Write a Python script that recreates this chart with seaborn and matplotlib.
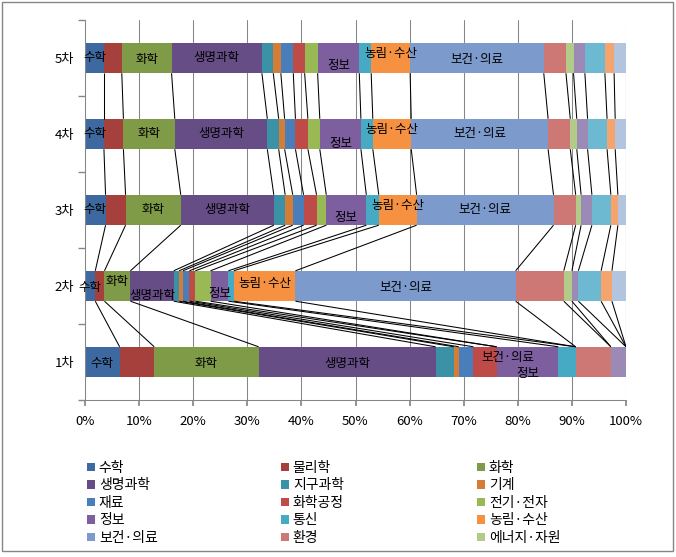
import numpy as np
import pandas as pd
import matplotlib
matplotlib.use("Agg")
import matplotlib.pyplot as plt
import seaborn as sns
from matplotlib.patches import Patch, Rectangle
from matplotlib.transforms import offset_copy

# ---------------- data ----------------
rows = ["5차", "4차", "3차", "2차", "1차"]
fields = ["수학", "물리학", "화학", "생명과학", "지구과학", "기계", "재료", "화학공정",
          "전기·전자", "정보", "통신", "농림·수산", "보건·의료", "환경", "에너지·자원",
          "원자력", "건설·교통", "융합", "기타"]

share_5 = [3.5, 3.3, 9.2, 16.7, 2.1, 1.4, 2.3, 2.1, 2.4, 7.7, 2.2, 7.2, 24.7, 4.1, 1.4, 2.1, 3.7, 1.7, 2.2]
share_4 = [3.5, 3.6, 9.5, 17.1, 2.1, 1.1, 2.0, 2.3, 2.2, 7.6, 2.2, 7.1, 25.3, 4.1, 1.2, 2.0, 3.6, 1.5, 2.0]
share_3 = [3.8, 3.7, 10.2, 17.2, 2.1, 1.4, 2.0, 2.4, 1.8, 7.4, 2.3, 7.0, 25.3, 4.1, 1.0, 2.0, 3.5, 1.3, 1.5]
share_2 = [1.9, 1.7, 4.8, 8.0, 1.0, 0.7, 1.2, 1.1, 2.8, 3.3, 1.0, 11.4, 40.7, 8.9, 1.5, 1.2, 4.2, 2.0, 2.6]
share_1 = [6.4, 6.4, 19.3, 32.7, 3.4, 0.9, 2.7, 4.3, 0.0, 11.4, 3.2, 0.0, 0.0, 6.5, 0.0, 2.8, 0.0, 0.0, 0.0]

xtick_values = list(range(0, 101, 10))
xtick_labels = [f"{v}%" for v in xtick_values]

colors = ["#3E69A0", "#A5403D", "#809B48", "#664D86", "#3B92A7", "#D37D36",
          "#4A7EBB", "#BE4B48", "#98B954", "#7D5FA0", "#46AAC5", "#F59141",
          "#7C9ACB", "#CE7876", "#B2CB88", "#9B8AB5", "#6DB9D1", "#F6A46D", "#B3C5DE"]

# labels shown on bars: field -> (dx px, dy px downward)
bar_labels = {
    "5차": {"수학": (0, 0), "화학": (0, 1), "생명과학": (0, 0), "정보": (0, 7), "농림·수산": (0, -5), "보건·의료": (0, 1)},
    "4차": {"수학": (0, 0), "화학": (0, 0), "생명과학": (0, 0), "정보": (0, 9), "농림·수산": (0, -5), "보건·의료": (0, 0)},
    "3차": {"수학": (0, 0), "화학": (0, 0), "생명과학": (0, 0), "정보": (0, 8), "농림·수산": (0, -5), "보건·의료": (0, 0)},
    "2차": {"수학": (0, 2), "화학": (0, -4), "생명과학": (0, 9), "정보": (0, 8), "농림·수산": (0, -2), "보건·의료": (0, 1)},
    "1차": {"수학": (0, 2), "화학": (0, 2), "생명과학": (0, 2), "보건·의료": (-68, -5), "정보": (0, 12)},
}

# ---------------- plot ----------------
sns.set_theme(style="white")
plt.rcParams["font.family"] = ["Noto Sans CJK KR", "DejaVu Sans"]
plt.rcParams["text.color"] = "black"

W, H = 676, 557
fig = plt.figure(figsize=(W / 100, H / 100), dpi=100)
fig.patch.set_facecolor("white")
ax = fig.add_axes([85 / W, 1 - 400 / H, 541 / W, 380 / H])

shares = np.array([share_5, share_4, share_3, share_2, share_1])
cum = shares.cumsum(axis=1)
df = pd.DataFrame(cum, index=rows, columns=fields)

bar_h = 0.4
for j in reversed(range(len(fields))):
    sns.barplot(x=df[fields[j]].values, y=rows, order=rows, color=colors[j],
                saturation=1, width=bar_h, linewidth=0, errorbar=None,
                orient="h", ax=ax)

ax.set_xlim(0, 100)
ax.set_ylim(4.5, -0.5)

# series lines
for i in range(len(rows) - 1):
    for j in range(len(fields)):
        ax.plot([cum[i + 1, j], cum[i, j]], [i + 1 - bar_h / 2, i + bar_h / 2],
                color="black", lw=0.75, zorder=2, solid_capstyle="butt")

# bar labels
for i, r in enumerate(rows):
    for f, (dx, dy) in bar_labels[r].items():
        j = fields.index(f)
        center = cum[i, j] - shares[i, j] / 2
        tr = offset_copy(ax.transData, fig=fig, x=dx, y=-dy, units="dots")
        ax.text(center, i, f, transform=tr, ha="center", va="center",
                fontsize=9, color="black", zorder=3)

# axes styling
ax.set_axisbelow(True)
ax.xaxis.grid(True, color="#868686", lw=0.75)
ax.yaxis.grid(False)
for s in ["top", "right"]:
    ax.spines[s].set_visible(False)
for s in ["left", "bottom"]:
    ax.spines[s].set_color("#868686")
    ax.spines[s].set_linewidth(0.75)
ax.set_xlabel("")
ax.set_ylabel("")
ax.set_xticks(xtick_values)
ax.set_xticklabels(xtick_labels)
ax.tick_params(axis="x", bottom=True, length=4, color="#868686", pad=7,
               labelsize=9.5, labelcolor="black", direction="out")
ax.set_yticks(range(len(rows)))
ax.set_yticklabels(rows)
ax.tick_params(axis="y", which="major", length=0, pad=8, labelsize=9.5, labelcolor="black")
ax.set_yticks(np.arange(-0.5, len(rows), 1), minor=True)
ax.tick_params(axis="y", which="minor", left=True, length=5, color="#868686", direction="out")

# legend (first 15 entries visible, 3 columns)
handles = [Patch(facecolor=colors[j], edgecolor="none") for j in range(15)]
col_x = [87, 281, 477]
for c in range(3):
    idx = list(range(c, 15, 3))
    leg = fig.legend([handles[k] for k in idx], [fields[k] for k in idx],
                     loc="upper left", bbox_to_anchor=(col_x[c] / W, 1 - 461 / H),
                     frameon=False, fontsize=10, handlelength=0.55, handleheight=0.55,
                     handletextpad=0.3, labelspacing=0.25, borderpad=0, borderaxespad=0)
    for t in leg.get_texts():
        t.set_color("black")

# chart border
fig.add_artist(Rectangle((2 / W, 1 - 551 / H), 671 / W, 549 / H, transform=fig.transFigure,
                         fill=False, edgecolor="#868686", lw=1))

fig.savefig("out.png", dpi=100)
